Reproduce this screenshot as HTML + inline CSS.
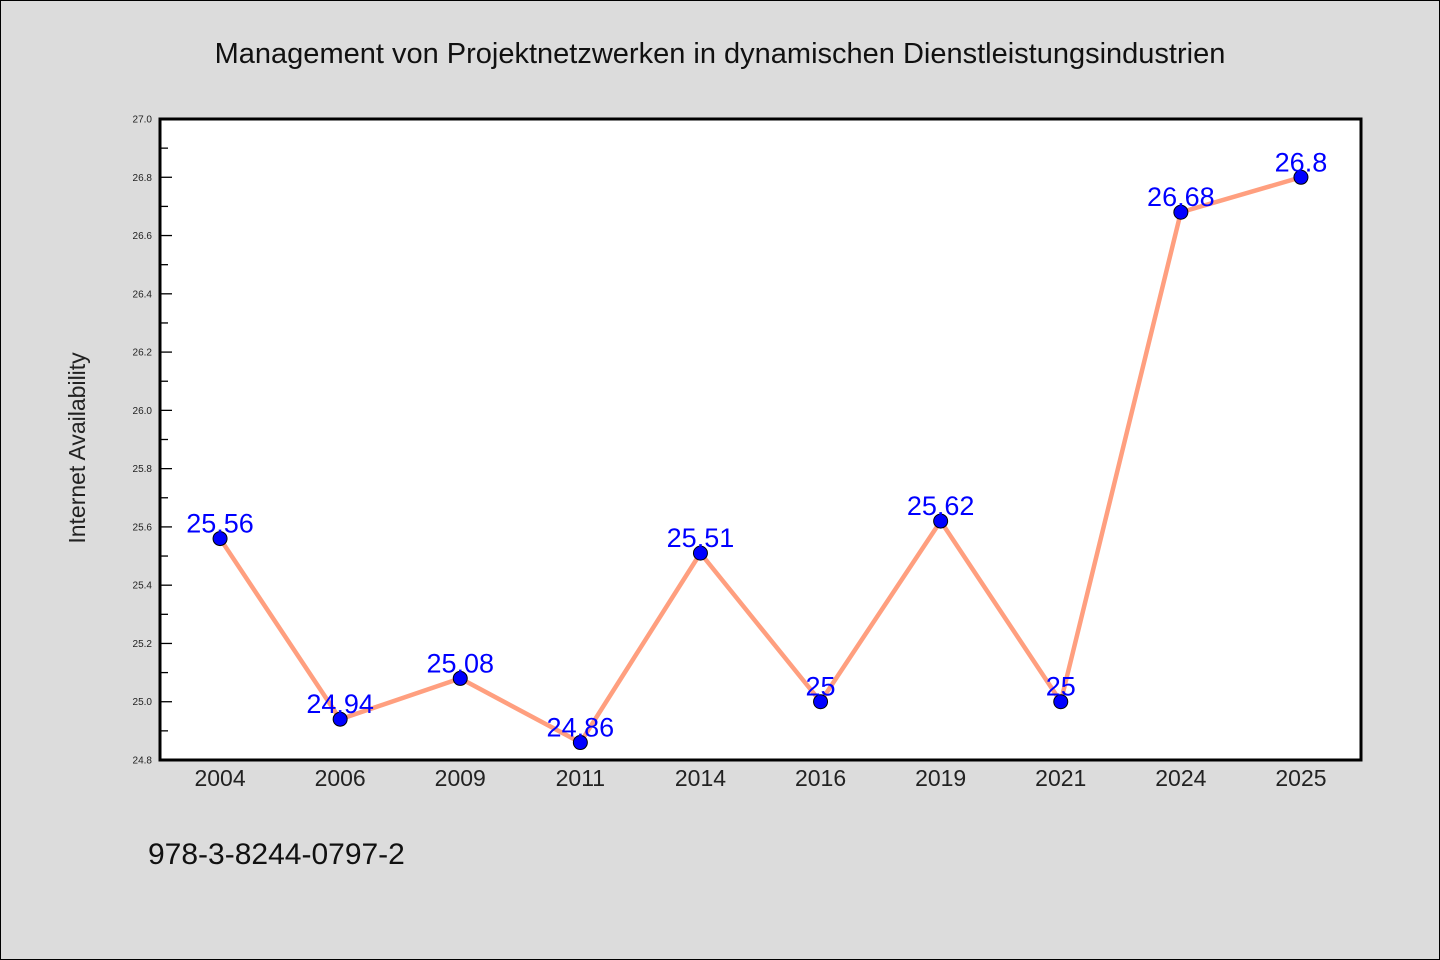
<!DOCTYPE html>
<html><head><meta charset="utf-8"><style>
html,body{margin:0;padding:0;background:#dcdcdc;}
svg{display:block;font-family:"WenQuanYi Zen Hei","Liberation Sans",sans-serif;}
</style></head><body>
<svg id="chart" width="1440" height="960" viewBox="0 0 1440 960">
<rect x="0.5" y="0.5" width="1439" height="959" fill="#dcdcdc" stroke="#000"/>
<text x="720" y="63" text-anchor="middle" font-size="29" fill="#111">Management von Projektnetzwerken in dynamischen Dienstleistungsindustrien</text>
<rect x="160" y="119" width="1201" height="641" fill="#fff"/>
<g id="yaxis"></g>
<g id="xaxis"></g>
<g id="series"></g>
<rect x="160" y="119" width="1201" height="641" fill="none" stroke="#000" stroke-width="3"/>
<text transform="translate(85,448) rotate(-90)" text-anchor="middle" font-size="23" fill="#222">Internet Availability</text>
<text x="148" y="864" font-size="30" fill="#111">978-3-8244-0797-2</text>
</svg>
<script>
const categories = ["2004","2006","2009","2011","2014","2016","2019","2021","2024","2025"];
const values = [25.56,24.94,25.08,24.86,25.51,25.0,25.62,25.0,26.68,26.8];
const labels = ["25.56","24.94","25.08","24.86","25.51","25","25.62","25","26.68","26.8"];
const yTicks = [24.8,25.0,25.2,25.4,25.6,25.8,26.0,26.2,26.4,26.6,26.8,27.0];
const yMin = 24.8, yMax = 27.0;
const L=160,R=1361,T=119,B=760;
const NS="http://www.w3.org/2000/svg";
function y(v){return B-(v-yMin)/(yMax-yMin)*(B-T);}
function x(i){return L+(R-L)/categories.length*(i+0.5);}
function mk(tag,attrs,parent){const e=document.createElementNS(NS,tag);for(const k in attrs)e.setAttribute(k,attrs[k]);parent.appendChild(e);return e;}
const ya=document.getElementById('yaxis'),xa=document.getElementById('xaxis'),se=document.getElementById('series');
yTicks.forEach((t,i)=>{
  const l=mk('line',{x1:L,x2:L+12,y1:y(t),y2:y(t),stroke:'#000','stroke-width':1.3},ya);
  
  
  const tx=mk('text',{x:L-8,y:y(t)+3.5,'text-anchor':'end','font-size':10,fill:'#222'},ya);
  tx.textContent=t.toFixed(1);
  
  
  if(i<yTicks.length-1){
    const m=(t+yTicks[i+1])/2;
    const ml=mk('line',{x1:L,x2:L+8,y1:y(m),y2:y(m),stroke:'#000','stroke-width':1.3},ya);
    
    
  }
});
categories.forEach((c,i)=>{
  const tx=mk('text',{x:x(i),y:B+26,'text-anchor':'middle','font-size':23,fill:'#222'},xa);
  tx.textContent=c;
  
  
});
const pl=mk('polyline',{points:values.map((v,i)=>x(i)+','+y(v)).join(' '),fill:'none',stroke:'#ff9f7f','stroke-width':4.5,'stroke-linejoin':'round'},se);


values.forEach((v,i)=>{
  const c=mk('circle',{cx:x(i),cy:y(v),r:7,fill:'#0000ff',stroke:'#000','stroke-width':1},se);
  
  
  const t=mk('text',{x:x(i),y:y(v)-6,'text-anchor':'middle','font-size':27,fill:'#0000ff'},se);
  t.textContent=labels[i];
  
  
});
</script>
</body></html>
